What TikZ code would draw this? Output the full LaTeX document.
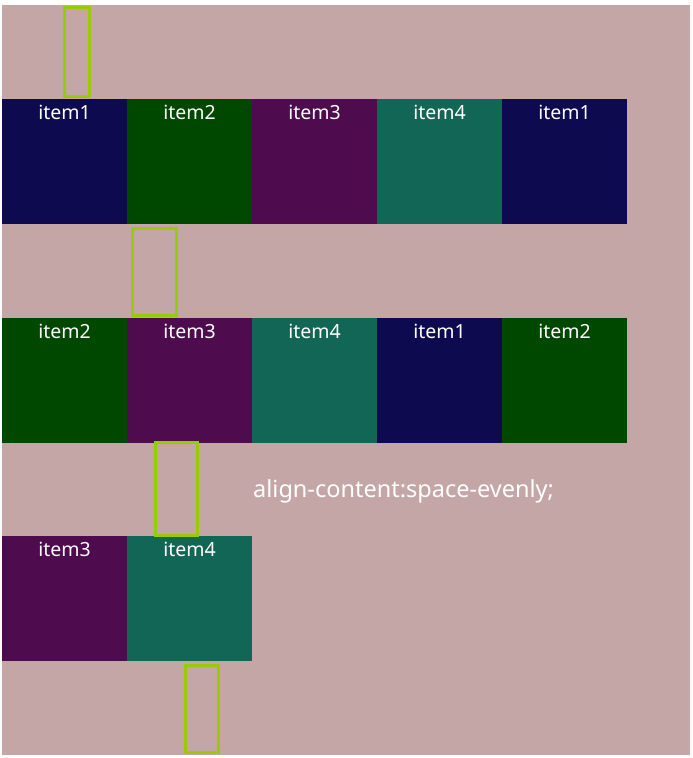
\documentclass[tikz,border=0pt]{standalone}
\usepackage{fontspec}
\setmainfont{Noto Sans}
\definecolor{bgc}{HTML}{C4A6A7}
\definecolor{cA}{HTML}{0E0A50}
\definecolor{cB}{HTML}{004800}
\definecolor{cC}{HTML}{4E0C4E}
\definecolor{cD}{HTML}{126655}
\definecolor{gline}{HTML}{99CC00}
\begin{document}
\begin{tikzpicture}[x=1pt,y=-1pt,
  item/.style={draw=none,minimum width=125pt,minimum height=125pt,anchor=north west,inner sep=0pt},
  lbl/.style={text=white,font=\fontsize{19.5}{22}\selectfont,anchor=base},
  gap/.style={draw=gline,line width=3pt}]
\useasboundingbox (0,0) rectangle (693,758);
\fill[white] (0,0) rectangle (693,758);
\fill[bgc] (2,5) rectangle (690,755);
% row 1
\foreach \i/\c/\t [count=\k from 0] in {A/cA/item1,B/cB/item2,C/cC/item3,D/cD/item4,E/cA/item1}{
  \node[item,fill=\c] (r1\i) at ({2+125*\k},99) {};
  \node[lbl] (l1\i) at ({64.5+125*\k},119) {\t};
}
% row 2
\foreach \i/\c/\t [count=\k from 0] in {A/cB/item2,B/cC/item3,C/cD/item4,D/cA/item1,E/cB/item2}{
  \node[item,fill=\c] (r2\i) at ({2+125*\k},318) {};
  \node[lbl] (l2\i) at ({64.5+125*\k},338) {\t};
}
% row 3
\foreach \i/\c/\t [count=\k from 0] in {A/cC/item3,B/cD/item4}{
  \node[item,fill=\c] (r3\i) at ({2+125*\k},536) {};
  \node[lbl] (l3\i) at ({64.5+125*\k},556) {\t};
}
\draw[gap] (64.5,7.5) rectangle (89.5,96.5);
\draw[gap] (132.5,228.5) rectangle (176.5,315.5);
\draw[gap] (155.5,442.5) rectangle (197.5,535.5);
\draw[gap] (185.5,665.5) rectangle (218.5,752.5);
\node[text=white,font=\fontsize{23.5}{26}\selectfont,anchor=base west,inner sep=0pt] (cap) at (253,497) {align-content:space-evenly;};
\end{tikzpicture}
\end{document}
